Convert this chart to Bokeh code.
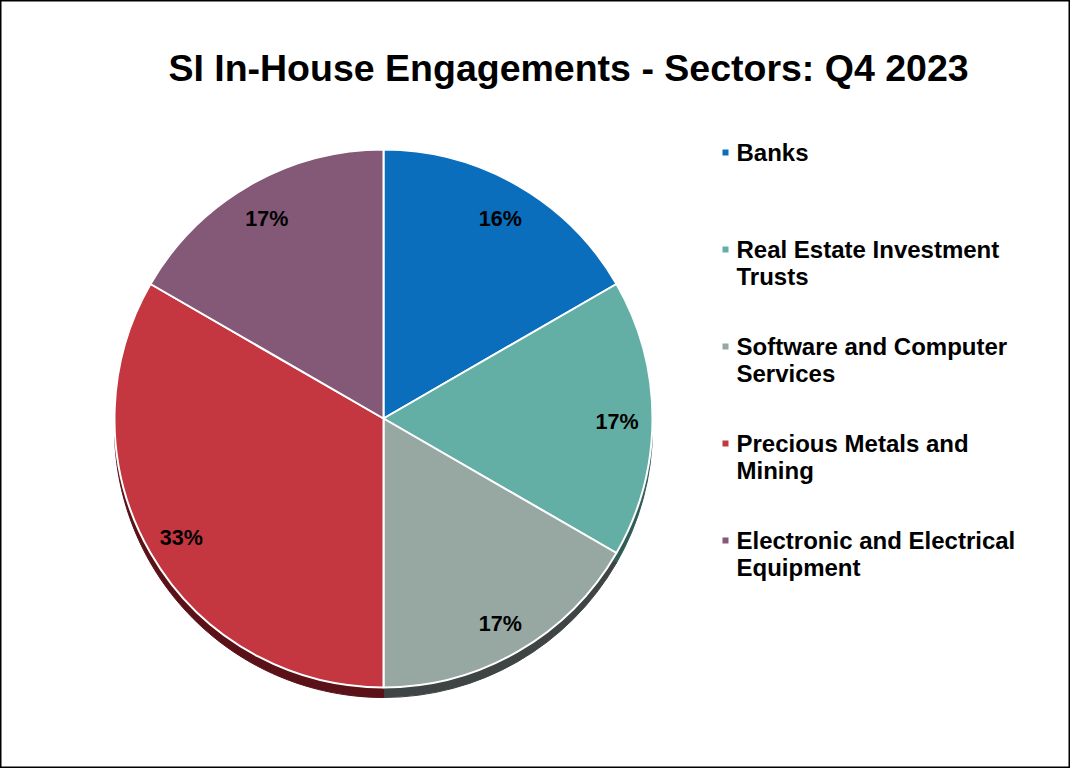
import math
import textwrap
from bokeh.plotting import figure
from bokeh.models import Range1d, ColumnDataSource
from bokeh.core.properties import value
from bokeh.embed import file_html
from bokeh.resources import INLINE

# ---- data ----
title_text = "SI In-House Engagements - Sectors: Q4 2023"
sectors = [
    "Banks",
    "Real Estate Investment Trusts",
    "Software and Computer Services",
    "Precious Metals and Mining",
    "Electronic and Electrical Equipment",
]
engagements = [1, 1, 1, 2, 1]
pct_labels = ["16%", "17%", "17%", "33%", "17%"]
colors = ["#0A6EBD", "#63AFA5", "#97A7A2", "#C43640", "#845877"]
shadow_colors = ["#06406E", "#2F5C56", "#3E4544", "#5A1218", "#4A2E42"]

# ---- layout (pixel-like coordinates: x = image x, y = H - image y) ----
W, H = 1070, 768
FONT = "Liberation Sans"


def sy(img_y):
    return H - img_y


cx, cy = 383, sy(418)
R = 269

p = figure(width=W, height=H, output_backend="svg", toolbar_location=None,
           x_range=Range1d(0, W), y_range=Range1d(0, H), min_border=0)
p.axis.visible = False
p.grid.visible = False
p.outline_line_color = "black"
p.outline_line_width = 2
p.background_fill_color = "white"
p.border_fill_color = "white"

total = float(sum(engagements))
starts, ends, mids = [], [], []
acc = 0.0
for v in engagements:
    a0 = acc / total
    acc += v
    a1 = acc / total
    starts.append(math.pi / 2 - a0 * 2 * math.pi)
    ends.append(math.pi / 2 - a1 * 2 * math.pi)
    mids.append(math.pi / 2 - (a0 + a1) / 2 * 2 * math.pi)

src = ColumnDataSource(dict(start=starts, end=ends, color=colors,
                            shadow=shadow_colors))

# 3D-like depth shadow
p.wedge(x=cx, y=cy - 10, radius=R, start_angle="start", end_angle="end",
        direction="clock", fill_color="shadow", line_color="shadow",
        line_width=1, source=src)
# main slices
p.wedge(x=cx, y=cy, radius=R, start_angle="start", end_angle="end",
        direction="clock", fill_color="color", line_color="white",
        line_width=2, source=src)

# data labels
lr = 0.868 * R
lab = ColumnDataSource(dict(
    x=[cx + lr * math.cos(m) for m in mids],
    y=[cy - 3 + lr * math.sin(m) for m in mids],
    t=pct_labels))
p.text(x="x", y="y", text="t", source=lab, text_align="center",
       text_baseline="middle", text_font=value(FONT), text_font_style="bold",
       text_font_size="21.5px", text_color="black")

# title
p.text(x=[568], y=[sy(67)], text=[title_text], text_align="center",
       text_baseline="alphabetic", text_font=value(FONT),
       text_font_style="bold", text_font_size="37.5px", text_color="black")

# legend
lx_sq, lx_txt = 725, 736
base0, step, line_gap = 152, 97, 27
sq_x, sq_y, sq_c = [], [], []
tx, ty, tt = [], [], []
for i, name in enumerate(sectors):
    b = base0 + i * step
    sq_x.append(lx_sq)
    sq_y.append(sy(b))
    sq_c.append(colors[i])
    for j, line in enumerate(textwrap.wrap(name, 25)):
        tx.append(lx_txt)
        ty.append(sy(b + j * line_gap))
        tt.append(line)
p.scatter(x=sq_x, y=sq_y, marker="square", size=6, fill_color=sq_c,
          line_color=None)
p.text(x=tx, y=ty, text=tt, text_align="left", text_baseline="alphabetic",
       text_font=value(FONT), text_font_style="bold", text_font_size="24px",
       text_color="black")

open("out.html", "w").write(file_html(p, INLINE))
